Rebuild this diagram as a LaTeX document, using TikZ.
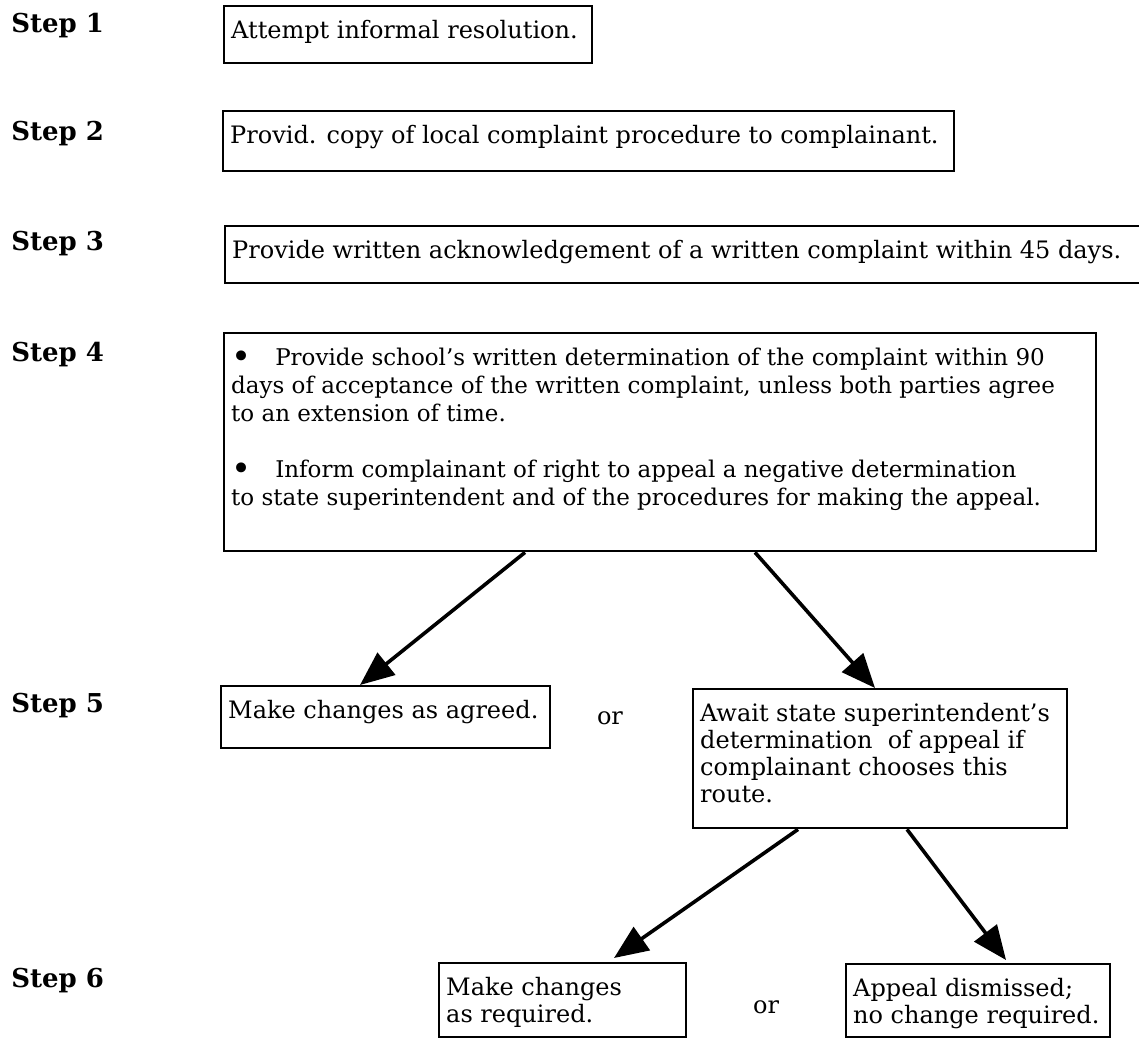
\documentclass[tikz,border=0pt]{standalone}
\usepackage{fontspec}
\usetikzlibrary{arrows.meta}
\newfontfamily\boxfont{DejaVu Serif}
\newcommand{\boxtext}[3]{\parbox[c][#2][t]{#1}{\raggedright\strut #3}}
\newcommand{\bigdot}{\raisebox{-1.5pt}{\fontsize{17}{14}\selectfont•}}

\begin{document}
\begin{tikzpicture}[x=0.5pt, y=-0.5pt, >={Triangle[length=17pt,width=14pt]},
  steplabel/.style={anchor=base west, inner sep=0pt, font=\boxfont\bfseries\fontsize{13}{16}\selectfont},
  flowbox/.style={draw, line width=1.2pt, anchor=north west, inner xsep=3.5pt, inner ysep=6.5pt,
    font=\boxfont\fontsize{12}{13.5}\selectfont},
  orlabel/.style={font=\boxfont\fontsize{12}{13.5}\selectfont},
  flow/.style={->, line width=1.8pt}]

\useasboundingbox (0,0) rectangle (1139,1042);

\node[steplabel] (s1) at (11,33) {Step 1};
\node[steplabel] (s2) at (11,141) {Step 2};
\node[steplabel] (s3) at (11,251) {Step 3};
\node[steplabel] (s4) at (11,362) {Step 4};
\node[steplabel] (s5) at (11,712) {Step 5};
\node[steplabel] (s6) at (11,987) {Step 6};

\node[flowbox] (attempt) at (223,5) {\boxtext{177pt}{15.5pt}{Attempt informal resolution.}};
\node[flowbox] (provide) at (222,110) {\boxtext{358.5pt}{17pt}{Provid. copy of local complaint procedure to complainant.}};
\node[flowbox] (acknowledge) at (224,225) {\boxtext{456pt}{15.5pt}{Provide written acknowledgement of a written complaint within 45 days.}};
\node[flowbox, font=\boxfont\fontsize{11.5}{14}\selectfont] (determine) at (223,332) {\boxtext{429pt}{96pt}{%
  \bigdot\hspace{12pt}Provide school’s written determination of the complaint within 90\\
  days of acceptance of the written complaint, unless both parties agree\\
  to an extension of time.\\[14pt]
  \bigdot\hspace{12pt}Inform complainant of right to appeal a negative determination\\
  to state superintendent and of the procedures for making the appeal.}};

\node[flowbox] (agreed) at (220,685) {\boxtext{157.5pt}{18pt}{Make changes as agreed.}};
\node[orlabel] (or5) at (610,718) {or};
\node[flowbox] (appeal) at (692,688) {\boxtext{180pt}{56.5pt}{Await state superintendent’s\\
  determination\ \ of appeal if\\ complainant chooses this\\ route.}};

\node[flowbox] (required) at (438,962) {\boxtext{116.5pt}{24pt}{Make changes\\ as required.}};
\node[orlabel] (or6) at (766,1007) {or};
\node[flowbox] (dismissed) at (845,963) {\boxtext{125pt}{23.5pt}{Appeal dismissed;\\ no change required.}};

\draw[flow] ([xshift=151pt]determine.south west) -- ([xshift=70pt]agreed.north west);
\draw[flow] ([xshift=266pt]determine.south west) -- ([xshift=91.5pt]appeal.north west);
\draw[flow] ([xshift=53pt]appeal.south west) -- ([xshift=88pt,yshift=2pt]required.north west);
\draw[flow] ([xshift=107.5pt]appeal.south west) -- ([xshift=80.5pt,yshift=1.5pt]dismissed.north west);

\end{tikzpicture}
\end{document}
